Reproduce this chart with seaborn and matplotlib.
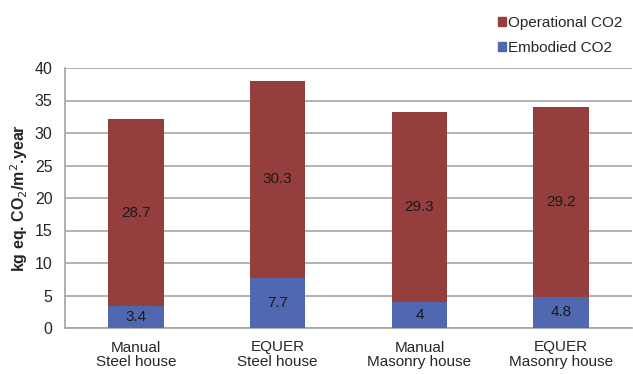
import pandas as pd
import matplotlib
matplotlib.use("Agg")
import matplotlib.pyplot as plt
import seaborn as sns

# --- dane ---
categories = ["Manual\nSteel house", "EQUER\nSteel house", "Manual\nMasonry house", "EQUER\nMasonry house"]
embodied = [3.4, 7.7, 4.0, 4.8]
operational = [28.7, 30.3, 29.3, 29.2]

COL_OP = "#943f3d"
COL_EMB = "#5068b0"

sns.set_theme(style="white")
plt.rcParams['font.family'] = ['Liberation Sans', 'DejaVu Sans']

df = pd.DataFrame({"cat": categories, "emb": embodied, "op": operational})
df["total"] = df["emb"] + df["op"]

fig = plt.figure(figsize=(6.33, 3.74), dpi=100)
ax = fig.add_axes([65 / 633, 46 / 374, 567 / 633, 260 / 374])

# stacked bars: total first (operational on top), embodied over it
sns.barplot(data=df, x="cat", y="total", color=COL_OP, width=0.39,
            saturation=1, linewidth=0, ax=ax, zorder=3)
sns.barplot(data=df, x="cat", y="emb", color=COL_EMB, width=0.39,
            saturation=1, linewidth=0, ax=ax, zorder=4)

for i, row in df.iterrows():
    ax.text(i, row["emb"] + row["op"] / 2, f"{row['op']:g}", ha="center", va="center",
            fontsize=11, color="#1a1a1a", zorder=5)
    ax.text(i, row["emb"] / 2, f"{row['emb']:g}", ha="center", va="center",
            fontsize=11, color="#1a1a1a", zorder=5)

ax.set_ylim(0, 40)
ax.set_xlim(-0.5, 3.5)
ax.set_yticks(range(0, 41, 5))
ax.yaxis.grid(True, color="#a6a6a6", linewidth=1.2, zorder=0)
ax.set_axisbelow(True)
for s in ["top", "right"]:
    ax.spines[s].set_visible(False)
ax.spines["left"].set_color("#a6a6a6")
ax.spines["bottom"].set_color("#a6a6a6")
ax.tick_params(axis="y", labelsize=11.5, length=0, pad=9)
ax.tick_params(axis="x", labelsize=11, length=0, pad=9)
for lbl in ax.get_xticklabels():
    lbl.set_linespacing(1.05)
ax.set_xlabel("")
ax.set_ylabel("kg eq. CO$_2$/m$^2$.year", fontsize=11.5, fontweight="bold", labelpad=3)

handles = [plt.Rectangle((0, 0), 1, 1, color=COL_OP), plt.Rectangle((0, 0), 1, 1, color=COL_EMB)]
fig.legend(handles, ["Operational CO2", "Embodied CO2"], loc="upper left",
           bbox_to_anchor=(484 / 633, 1 - 2 / 374), frameon=False, fontsize=11,
           handlelength=0.55, handleheight=0.55, handletextpad=0.1, labelspacing=0.75)

fig.savefig("out.png", dpi=100)
